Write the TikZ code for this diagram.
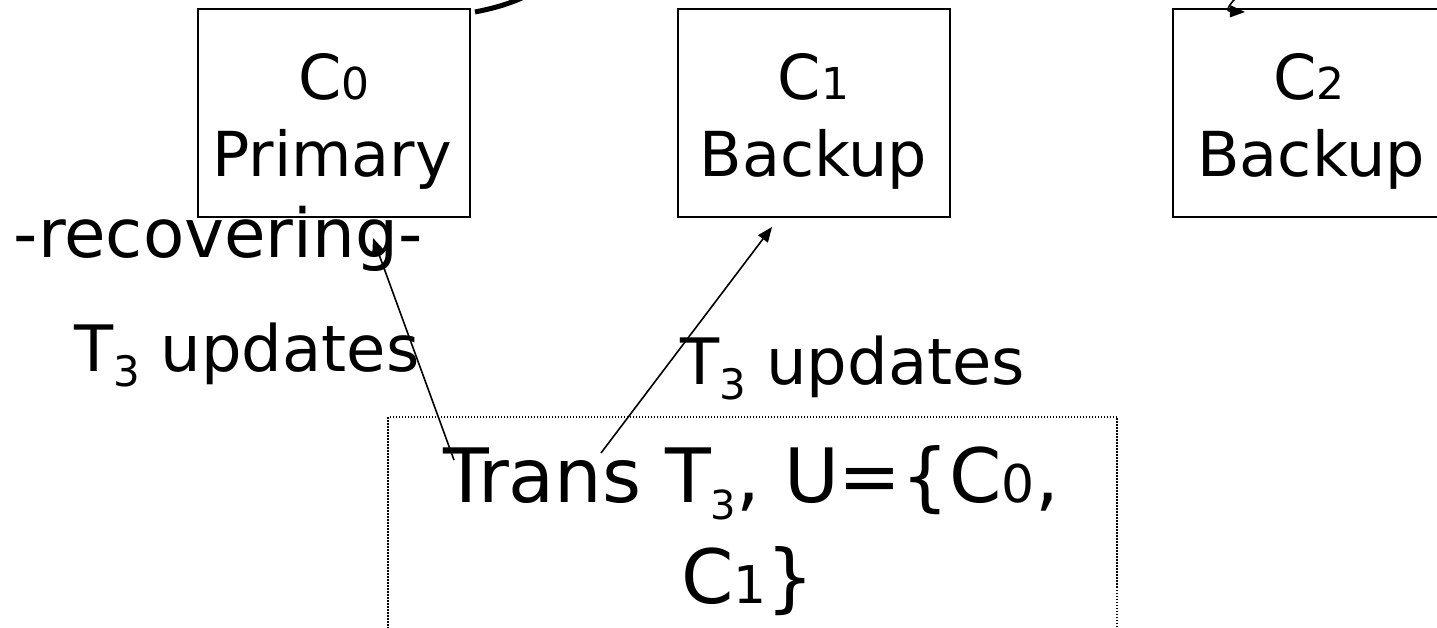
\documentclass[tikz,border=0pt]{standalone}
\usepackage{fontspec}
\setmainfont{DejaVu Sans}
\usetikzlibrary{arrows.meta}

% digit set small on the baseline (C0, C1, C2)
\newcommand{\smalldigit}[2]{{\fontsize{#1}{#1}\selectfont #2}}
% lowered subscript digit (T3)
\newcommand{\lowdigit}[2]{\raisebox{-0.23em}{\fontsize{#1}{#1}\selectfont #2}}

\begin{document}
\begin{tikzpicture}[x=1pt,y=1pt,
  every node/.style={inner sep=0pt, outer sep=0pt},
  server/.style={draw, line width=2pt, minimum width=272pt, minimum height=208pt},
  boxtext/.style={anchor=base, font=\fontsize{62}{62}\selectfont},
  note/.style={anchor=base, font=\fontsize{64}{64}\selectfont},
  transtext/.style={anchor=base, font=\fontsize{75}{75}\selectfont},
  link/.style={line width=1.6pt, -{Triangle[length=15pt,width=12pt]}},
]
\useasboundingbox (0,0) rectangle (1437,627);
\clip (0,0) rectangle (1437,627);
\fill[white] (0,0) rectangle (1437,627);

% sites
\node[server] (c0) at (334,514) {};
\node[server] (c1) at (813.5,514) {};
\node[server] (c2) at (1309,514) {};

\node[boxtext] (c0id)   at (334,527) {C\smalldigit{44}{0}};
\node[boxtext] (c0role) at (332,450) {Primary};
\node[boxtext] (c1id)   at (813.5,527) {C\smalldigit{44}{1}};
\node[boxtext] (c1role) at (813.5,450) {Backup};
\node[boxtext] (c2id)   at (1309,527) {C\smalldigit{44}{2}};
\node[boxtext] (c2role) at (1311,450) {Backup};

% state of the primary
\node[anchor=base, font=\fontsize{67.5}{67.5}\selectfont] (rec) at (218,369) {-recovering-};

% update labels
\node[note] (upd0) at (247,255) {T\lowdigit{42}{3} updates};
\node[note] (upd1) at (852.5,242) {T\lowdigit{42}{3} updates};

% transaction box
\node[draw, line width=1.5pt, dash pattern=on 1.5pt off 1.5pt,
      minimum width=729pt, minimum height=240pt, anchor=north] (trans) at (752.5,210) {};
\node[transtext] (tl1) at (751,125) {Trans T\lowdigit{40}{3}, U=\{C\smalldigit{52}{0},};
\node[transtext] (tl2) at (748,24) {C\smalldigit{52}{1}\}};

% update messages
\coordinate (src0) at (454,167);
\coordinate (dst0) at (373,389);
\coordinate (src1) at (601,174);
\coordinate (dst1) at (772,400);
\draw[link] (src0) -- (dst0);
\draw[link] (src1) -- (dst1);

% curves running above the sites
\coordinate (arcA) at (475,615);
\coordinate (arcB) at (570,665);
\draw[line width=5pt] (arcA) .. controls (510,622) and (540,632) .. (arcB);
\coordinate (arcC) at (1252,645);
\coordinate (arcD) at (1245,615);
\draw[link] (arcC) .. controls (1236,630) and (1222,616) .. (arcD);
\end{tikzpicture}
\end{document}
